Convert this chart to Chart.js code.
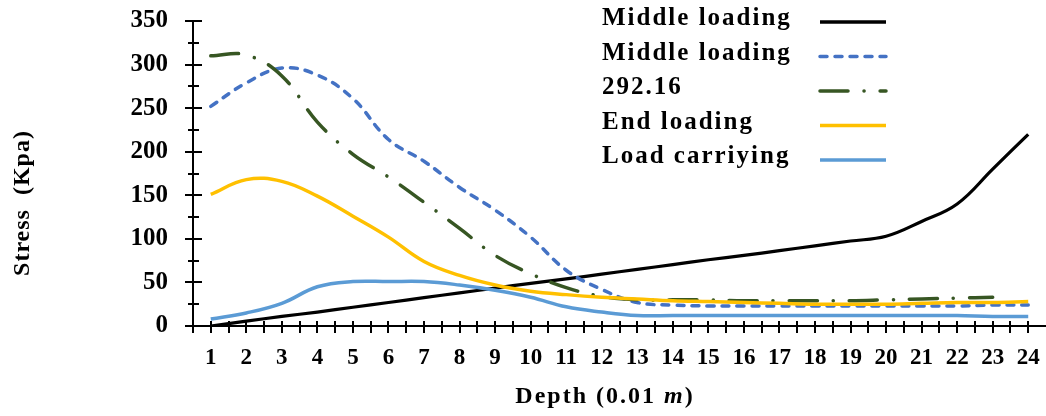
<!DOCTYPE html>
<html>
<head>
<meta charset="utf-8">
<title>Stress vs depth</title>
<script src="https://cdn.jsdelivr.net/npm/chart.js@4.4.0/dist/chart.umd.min.js"></script>
<style>
  html, body { margin: 0; padding: 0; background: #fff; }
</style>
</head>
<body>
<canvas id="stress" width="1046" height="416"></canvas>
<script>
// depth steps (0.01 m)
const depth = ['1','2','3','4','5','6','7','8','9','10','11','12','13','14','15','16','17','18','19','20','21','22','23','24'];

// stress values in Kpa
const middleLoading = [0, 5.5, 11, 16, 21.5, 27, 32.5, 38, 43.5, 49, 54, 59.5, 65, 70.5, 76, 81, 86.5, 92, 97.5, 103, 120, 140, 180, 220];
const middleLoading2 = [252, 279, 296, 288, 261, 214, 189, 159, 133, 102, 64, 42, 27, 24, 23, 23, 23, 23, 23, 23, 23, 23, 24, 24];
const load29216 = [310, 311, 287, 234, 197, 171, 142, 112, 81, 60, 44, 34, 30, 30, 30, 29, 29, 29, 29, 30, 31, 32, 33, null];
const endLoading = [151, 168, 166, 149, 126, 102, 74, 58, 47, 40, 36, 33, 31, 29, 28, 27, 26, 25, 25, 25, 26, 27, 27, 28];
const loadCarrying = [8, 15, 26, 45, 51, 51, 51, 47, 41, 33, 22, 16, 12, 12, 12, 12, 12, 12, 12, 12, 12, 12, 11, 11];

const yTicks = [0, 50, 100, 150, 200, 250, 300, 350];

const serif = "'Times New Roman', 'Liberation Serif', serif";

// axis lines with cross ticks, axis titles
const axisDecor = {
  id: 'axisDecor',
  beforeDatasetsDraw(chart) {
    const { ctx, chartArea: a, scales: { x, y } } = chart;
    ctx.save();
    ctx.strokeStyle = '#000';
    ctx.lineWidth = 2;
    ctx.beginPath();
    ctx.moveTo(a.left, a.top);
    ctx.lineTo(a.left, a.bottom);
    ctx.lineTo(chart.width, a.bottom);
    for (let v = 0; v <= yTicks[yTicks.length - 1]; v += 25) {
      const py = Math.round(y.getPixelForValue(v));
      const big = v % 50 === 0;
      ctx.moveTo(a.left - (big ? 8 : 5), py);
      ctx.lineTo(a.left + (big ? 9 : 6), py);
    }
    const half = (x.getPixelForValue(1) - x.getPixelForValue(0)) / 2;
    depth.forEach((d, i) => {
      const px = x.getPixelForValue(i);
      [px - half, px].forEach(p => {
        p = Math.round(p);
        ctx.moveTo(p, a.bottom - 5);
        ctx.lineTo(p, a.bottom + 7);
      });
    });
    ctx.stroke();

    ctx.fillStyle = '#000';
    ctx.textBaseline = 'middle';
    // y title
    ctx.save();
    ctx.translate(23, 203);
    ctx.rotate(-Math.PI / 2);
    ctx.font = 'bold 24px ' + serif;
    ctx.letterSpacing = '1px';
    ctx.textAlign = 'center';
    ctx.fillText('Stress  (Kpa)', 0, 0);
    ctx.restore();

    // x title with italic unit
    ctx.letterSpacing = '2px';
    const parts = [['Depth (0.01 ', 'bold 24px '], ['m', 'bold italic 24px '], [')', 'bold 24px ']];
    let total = 0;
    parts.forEach(p => { ctx.font = p[1] + serif; total += ctx.measureText(p[0]).width; });
    let tx = 605 - total / 2;
    ctx.textAlign = 'left';
    parts.forEach(p => {
      ctx.font = p[1] + serif;
      ctx.fillText(p[0], tx, 397);
      tx += ctx.measureText(p[0]).width;
    });
    ctx.restore();
  }
};

// legend block in the top right corner
const legendBlock = {
  id: 'legendBlock',
  afterDraw(chart) {
    const ctx = chart.ctx;
    ctx.save();
    ctx.font = 'bold 25px ' + serif;
    ctx.letterSpacing = '2px';
    ctx.textBaseline = 'middle';
    ctx.fillStyle = '#000';
    chart.data.datasets.forEach((ds, i) => {
      const cy = 19 + i * 34.5;
      ctx.fillText(ds.label, 602, cy);
      ctx.beginPath();
      ctx.setLineDash(ds.borderDash || []);
      ctx.lineCap = ds.borderCapStyle || 'butt';
      ctx.strokeStyle = ds.borderColor;
      ctx.lineWidth = 3.5;
      ctx.moveTo(820, cy + 3);
      ctx.lineTo(886, cy + 3);
      ctx.stroke();
    });
    ctx.restore();
  }
};

const lineSet = (label, data, color, extra) => Object.assign({
  label: label,
  data: data,
  borderColor: color,
  backgroundColor: color,
  borderWidth: 3.5,
  pointRadius: 0,
  tension: 0.4,
  fill: false,
  spanGaps: false
}, extra || {});

new Chart(document.getElementById('stress'), {
  type: 'line',
  data: {
    labels: depth,
    datasets: [
      lineSet('Middle loading', middleLoading, '#000000', { borderWidth: 3.2, order: 5 }),
      lineSet('Middle loading', middleLoading2, '#4472C4', { borderDash: [7, 8], borderCapStyle: 'round', order: 4 }),
      lineSet('292.16', load29216, '#375623', { borderDash: [28, 16, 0.1, 16], borderCapStyle: 'round', order: 3 }),
      lineSet('End loading', endLoading, '#FFC000', { order: 2 }),
      lineSet('Load carriying', loadCarrying, '#5B9BD5', { order: 1 })
    ]
  },
  options: {
    responsive: false,
    animation: false,
    devicePixelRatio: 1,
    layout: { padding: { top: 21, right: 0, left: 0, bottom: 0 } },
    plugins: { legend: { display: false }, tooltip: { enabled: false } },
    scales: {
      x: {
        offset: true,
        grid: { display: false, drawTicks: false },
        border: { display: false },
        ticks: { color: '#000', font: { family: serif, size: 23, weight: 'bold' }, padding: 18, maxRotation: 0, autoSkip: false },
        afterFit: s => { s.height = 90; s.paddingLeft = 0; s.paddingRight = 0; }
      },
      y: {
        min: 0,
        max: 350,
        grid: { display: false, drawTicks: false },
        border: { display: false },
        ticks: { stepSize: 50, color: '#000', font: { family: serif, size: 25, weight: 'bold' }, padding: 25 },
        afterFit: s => { s.width = 193; s.paddingTop = 0; s.paddingBottom = 0; }
      }
    }
  },
  plugins: [axisDecor, legendBlock]
});
</script>
</body>
</html>
